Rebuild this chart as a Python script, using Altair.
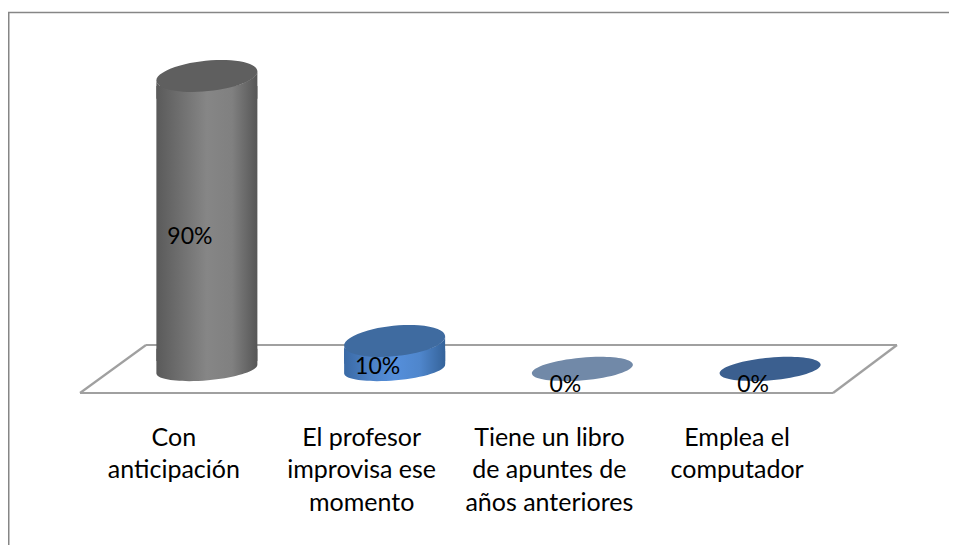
import altair as alt
import pandas as pd

categories = ["Con|anticipación", "El profesor|improvisa ese|momento", "Tiene un libro|de apuntes de|años anteriores", "Emplea el|computador"]
values = [90, 10, 0, 0]
labels = ["90%", "10%", "0%", "0%"]
top_colors = ["#5f5f5f", "#3f6ba0", "#7189a8", "#3b5f8f"]
body_stops = [
    ["#5a5a5a", "#707070", "#868686", "#808080", "#565656"],
    ["#3a6aa6", "#4c80c4", "#558fdb", "#4f86cc", "#35639a"],
    None,
    None,
]

FONT = "Lato"
W, H, TOTAL = 941, 385, 537
df = pd.DataFrame({"cat": categories, "value": values, "label": labels, "half": [v / 2 for v in values], "zero": [0] * 4})

x = alt.X("cat:N", sort=categories, title=None,
          scale=alt.Scale(domain=categories, range=[105, 856], paddingInner=0, paddingOuter=0),
          axis=alt.Axis(domain=False, ticks=False, labelAngle=0, labelFont=FONT, labelFontSize=25,
                        labelColor="#000000", labelPadding=44, labelLineHeight=32.5, grid=False,
                        labelOffset=-33,
                        labelExpr="split(datum.label, '|')", labelLimit=0, labelBaseline="middle"))
yscale = alt.Scale(domain=[0, 10, 90], range=[361, 333, 68])


def y(field):
    return alt.Y(f"{field}:Q", scale=yscale, axis=None, title=None)


def gradient(stops):
    n = len(stops) - 1
    return alt.Gradient(gradient="linear", x1=0, x2=1, y1=0, y2=0,
                        stops=[alt.GradientStop(offset=i / n, color=c) for i, c in enumerate(stops)])


TALL = "M-1,0.1 A1.005,0.3,-5.7,1,1,1,-0.1 A1.005,0.3,-5.7,1,1,-1,0.1 Z"
FLAT = "M-1,0.09 A1.004,0.225,-5.1,1,1,1,-0.09 A1.004,0.225,-5.1,1,1,-1,0.09 Z"
# lower half of the rim with straight sides running under the top disc
TOP_CAP = "M-1,0.1 A1.005,0.3,-5.7,0,0,1,-0.1 L1,0.45 L-1,0.45 Z"
# lower half of the base with straight sides running up into the body
BASE_CAP = "M-1,0.09 A1.004,0.225,-5.1,0,0,1,-0.09 L1,-0.4 L-1,-0.4 Z"
SIZE = (2 * 50.5) ** 2
GRID = "#a0a0a0"


def edge(x1, y1, x2, y2, color=GRID, width=2.2):
    return alt.Chart(df.head(1)).mark_rule(color=color, strokeWidth=width).encode(
        x=alt.value(x1), x2=alt.value(x2), y=alt.value(y1), y2=alt.value(y2))


layers = [
    edge(0.5, 4, 0.5, TOTAL, "#868686", 2),
    edge(0, 4.5, W, 4.5, "#868686", 1.5),
    edge(72, 385, 138, 337),
    edge(138, 337, 889, 337),
    edge(889, 337, 825, 385),
    edge(72, 385, 825, 385),
]

for i, cat in enumerate(categories):
    row = df[df.cat == cat]
    stops = body_stops[i]
    if stops:
        g = gradient(stops)
        layers.append(alt.Chart(row).mark_point(shape=BASE_CAP, filled=True, size=SIZE, fill=g, opacity=1, stroke=None)
                      .encode(x=x, y=y("zero")))
        layers.append(alt.Chart(row).mark_bar(size=101, fill=g, stroke=None, yOffset=10, y2Offset=-8)
                      .encode(x=x, y=y("value"), y2=alt.Y2("zero:Q")))
        layers.append(alt.Chart(row).mark_point(shape=TOP_CAP, filled=True, size=SIZE, fill=g, opacity=1, stroke=None)
                      .encode(x=x, y=y("value")))
    layers.append(alt.Chart(row).mark_point(shape=TALL if stops else FLAT, filled=True, size=SIZE,
                                            fill=top_colors[i], opacity=1, stroke=None)
                  .encode(x=x, y=y("value")))
    layers.append(alt.Chart(row).mark_text(font=FONT, fontSize=23, color="#000000", dx=-17,
                                           dy=12 if stops else 16, baseline="middle")
                  .encode(x=x, y=y("half"), text="label:N"))

chart = alt.layer(*layers).properties(
    width=W, height=H, background="#ffffff", autosize=alt.AutoSizeParams(type="none"),
    padding={"left": 0, "top": 0, "right": 0, "bottom": TOTAL - H},
).configure_view(stroke=None)

chart.save("out.html", embed_options={"renderer": "svg", "actions": False})
